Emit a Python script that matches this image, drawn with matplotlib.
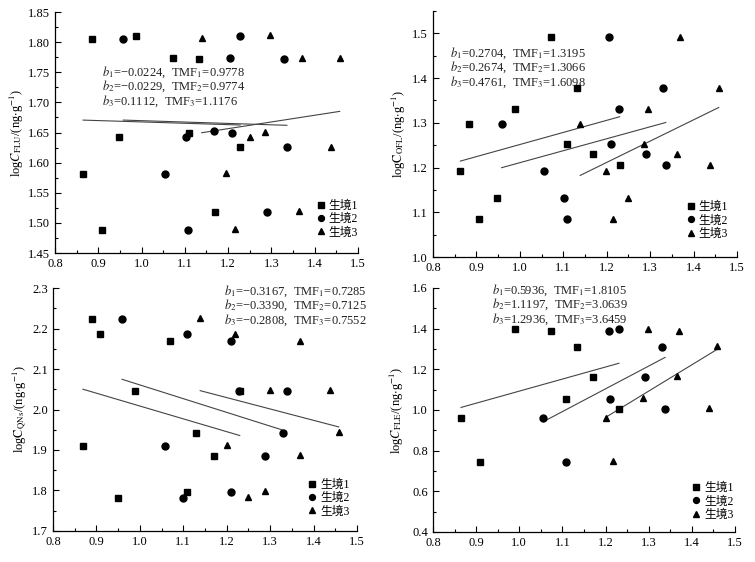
import numpy as np
import matplotlib
matplotlib.use('Agg')
import matplotlib.pyplot as plt
from matplotlib.ticker import MultipleLocator, FormatStrFormatter

plt.rcParams['font.family'] = ['Liberation Serif', 'Noto Sans CJK SC']
plt.rcParams['mathtext.fontset'] = 'stix'
plt.rcParams['font.size'] = 9

habitats = ['生境1', '生境2', '生境3']
markers = ['s', 'o', '^']

# FLU
flu_x1 = [0.885, 0.988, 1.072, 1.133, 0.948, 1.109, 1.228, 0.865, 1.169, 0.908]
flu_y1 = [1.806, 1.811, 1.774, 1.772, 1.642, 1.650, 1.626, 1.581, 1.518, 1.489]
flu_x2 = [0.958, 1.228, 1.205, 1.329, 1.102, 1.167, 1.209, 1.336, 1.055, 1.289, 1.108]
flu_y2 = [1.806, 1.811, 1.774, 1.772, 1.642, 1.652, 1.650, 1.626, 1.581, 1.518, 1.489]
flu_x3 = [1.139, 1.298, 1.372, 1.458, 1.250, 1.286, 1.437, 1.196, 1.364, 1.216]
flu_y3 = [1.807, 1.812, 1.774, 1.773, 1.643, 1.651, 1.626, 1.582, 1.519, 1.490]
flu_b = [-0.0224, -0.0229, 0.1112]
flu_tmf = [0.9778, 0.9774, 1.1176]

# OFL
ofl_x1 = [1.072, 1.132, 0.988, 0.884, 1.108, 1.169, 1.230, 0.863, 0.947, 0.907]
ofl_y1 = [1.492, 1.377, 1.330, 1.298, 1.252, 1.230, 1.205, 1.193, 1.133, 1.086]
ofl_x2 = [1.205, 1.329, 1.229, 0.958, 1.209, 1.290, 1.336, 1.055, 1.102, 1.108]
ofl_y2 = [1.492, 1.377, 1.330, 1.298, 1.252, 1.230, 1.205, 1.193, 1.133, 1.086]
ofl_x3 = [1.369, 1.458, 1.296, 1.139, 1.286, 1.363, 1.438, 1.198, 1.249, 1.215]
ofl_y3 = [1.492, 1.377, 1.330, 1.298, 1.252, 1.230, 1.205, 1.193, 1.133, 1.086]
ofl_b = [0.2704, 0.2674, 0.4761]
ofl_tmf = [1.3195, 1.3066, 1.6098]

# QNs
qns_x1 = [0.889, 0.909, 1.069, 0.989, 1.230, 1.129, 0.869, 1.170, 1.109, 0.949]
qns_y1 = [2.224, 2.186, 2.168, 2.045, 2.045, 1.943, 1.911, 1.886, 1.797, 1.782]
qns_x2 = [0.959, 1.109, 1.210, 1.229, 1.338, 1.329, 1.059, 1.288, 1.209, 1.099]
qns_y2 = [2.224, 2.186, 2.168, 2.045, 2.045, 1.943, 1.911, 1.886, 1.797, 1.782]
qns_x3 = [1.139, 1.219, 1.369, 1.299, 1.439, 1.458, 1.200, 1.369, 1.249, 1.289]
qns_y3 = [2.226, 2.187, 2.170, 2.047, 2.047, 1.945, 1.913, 1.887, 1.784, 1.799]
qns_b = [-0.3167, -0.3390, -0.2808]
qns_tmf = [0.7285, 0.7125, 0.7552]

# FLE
fle_x1 = [0.989, 1.073, 1.133, 1.170, 1.109, 1.231, 0.865, 0.908]
fle_y1 = [1.400, 1.386, 1.312, 1.163, 1.054, 1.007, 0.959, 0.744]
fle_x2 = [1.230, 1.207, 1.331, 1.291, 1.210, 1.338, 1.056, 1.109]
fle_y2 = [1.400, 1.386, 1.312, 1.163, 1.054, 1.007, 0.959, 0.744]
fle_x3 = [1.298, 1.371, 1.458, 1.365, 1.287, 1.439, 1.200, 1.217]
fle_y3 = [1.400, 1.390, 1.315, 1.166, 1.057, 1.010, 0.962, 0.747]
fle_b = [0.5936, 1.1197, 1.2936]
fle_tmf = [1.8105, 3.0639, 3.6459]

panels = [
    dict(xs=[flu_x1, flu_x2, flu_x3], ys=[flu_y1, flu_y2, flu_y3], b=flu_b, tmf=flu_tmf,
         ylabel=r'log$C_{\rm FLU}$/(ng$\cdot$g$^{-1}$)', ylim=(1.45, 1.85), major=0.05, minor=0.025,
         fmt='%.2f', rect=[0.0728, 0.5498, 0.4012, 0.4288], text=(0.155, 0.751), ha='left',
         labx=-0.095, leg=(1.0, 0.06)),
    dict(xs=[ofl_x1, ofl_x2, ofl_x3], ys=[ofl_y1, ofl_y2, ofl_y3], b=ofl_b, tmf=ofl_tmf,
         ylabel=r'log$\mathrm{C}_{\rm OFL}$/(ng$\cdot$g$^{-1}$)', ylim=(1.0, 1.55), major=0.1, minor=0.05,
         fmt='%.1f', rect=[0.5735, 0.5427, 0.4026, 0.4377], text=(0.056, 0.829), ha='left',
         labx=-0.082, leg=(0.97, 0.07)),
    dict(xs=[qns_x1, qns_x2, qns_x3], ys=[qns_y1, qns_y2, qns_y3], b=qns_b, tmf=qns_tmf,
         ylabel=r'log$\mathrm{C}_{\rm QNs}$/(ng$\cdot$g$^{-1}$)', ylim=(1.7, 2.3), major=0.1, minor=0.05,
         fmt='%.1f', rect=[0.0702, 0.0552, 0.4026, 0.4323], text=(1.033, 0.988), ha='right',
         labx=-0.078, leg=(0.975, 0.055)),
    dict(xs=[fle_x1, fle_x2, fle_x3], ys=[fle_y1, fle_y2, fle_y3], b=fle_b, tmf=fle_tmf,
         ylabel=r'log$C_{\rm FLE}$/(ng$\cdot$g$^{-1}$)', ylim=(0.4, 1.6), major=0.2, minor=0.1,
         fmt='%.1f', rect=[0.5735, 0.0534, 0.4000, 0.4342], text=(0.195, 0.992), ha='left',
         labx=-0.09, leg=(0.995, 0.045)),
]

fig = plt.figure(figsize=(7.55, 5.62), dpi=100)

for p in panels:
    ax = fig.add_axes(p['rect'])
    for i in range(3):
        x = np.array(p['xs'][i])
        y = np.array(p['ys'][i])
        ax.plot(x, y, linestyle='none', marker=markers[i], color='black',
                markersize=4.5 if i == 0 else 5, label=habitats[i], zorder=3)
        # regression line through the mean point with the reported slope
        a = y.mean() - p['b'][i] * x.mean()
        xl = np.array([x.min(), x.max()])
        ax.plot(xl, a + p['b'][i] * xl, color='#444444', linewidth=0.8, zorder=2)

    # one text object per line, about 14.5 px apart
    step = 14.5 / (p['rect'][3] * 562)
    for i in range(3):
        bv = ('%.4f' % p['b'][i]).replace('-', '\u2212')
        s = r'$b_%d$=%s,  TMF$_%d$=%.4f' % (i + 1, bv, i + 1, p['tmf'][i])
        ax.text(p['text'][0], p['text'][1] - i * step, s, transform=ax.transAxes,
                ha=p['ha'], va='center', fontsize=9, color='#222222')

    ax.set_xlim(0.8, 1.5)
    ax.set_ylim(*p['ylim'])
    ax.xaxis.set_major_locator(MultipleLocator(0.1))
    ax.xaxis.set_minor_locator(MultipleLocator(0.05))
    ax.xaxis.set_major_formatter(FormatStrFormatter('%.1f'))
    ax.yaxis.set_major_locator(MultipleLocator(p['major']))
    ax.yaxis.set_minor_locator(MultipleLocator(p['minor']))
    ax.yaxis.set_major_formatter(FormatStrFormatter(p['fmt']))
    ax.tick_params(which='both', direction='in', labelsize=9, width=0.8)
    ax.tick_params(which='major', length=4)
    ax.tick_params(which='minor', length=2)
    ax.spines['top'].set_visible(False)
    ax.spines['right'].set_visible(False)
    ax.spines['left'].set_linewidth(0.9)
    ax.spines['bottom'].set_linewidth(0.9)
    ax.set_ylabel(p['ylabel'], fontsize=9)
    ax.yaxis.set_label_coords(p['labx'], 0.5)

    ax.legend(loc='lower right', bbox_to_anchor=p['leg'], frameon=False, fontsize=8.5,
              handletextpad=0.15, labelspacing=0.12, handlelength=1.0, markerscale=0.85,
              borderaxespad=0.0, borderpad=0.0)

fig.savefig('out.png', dpi=100)
